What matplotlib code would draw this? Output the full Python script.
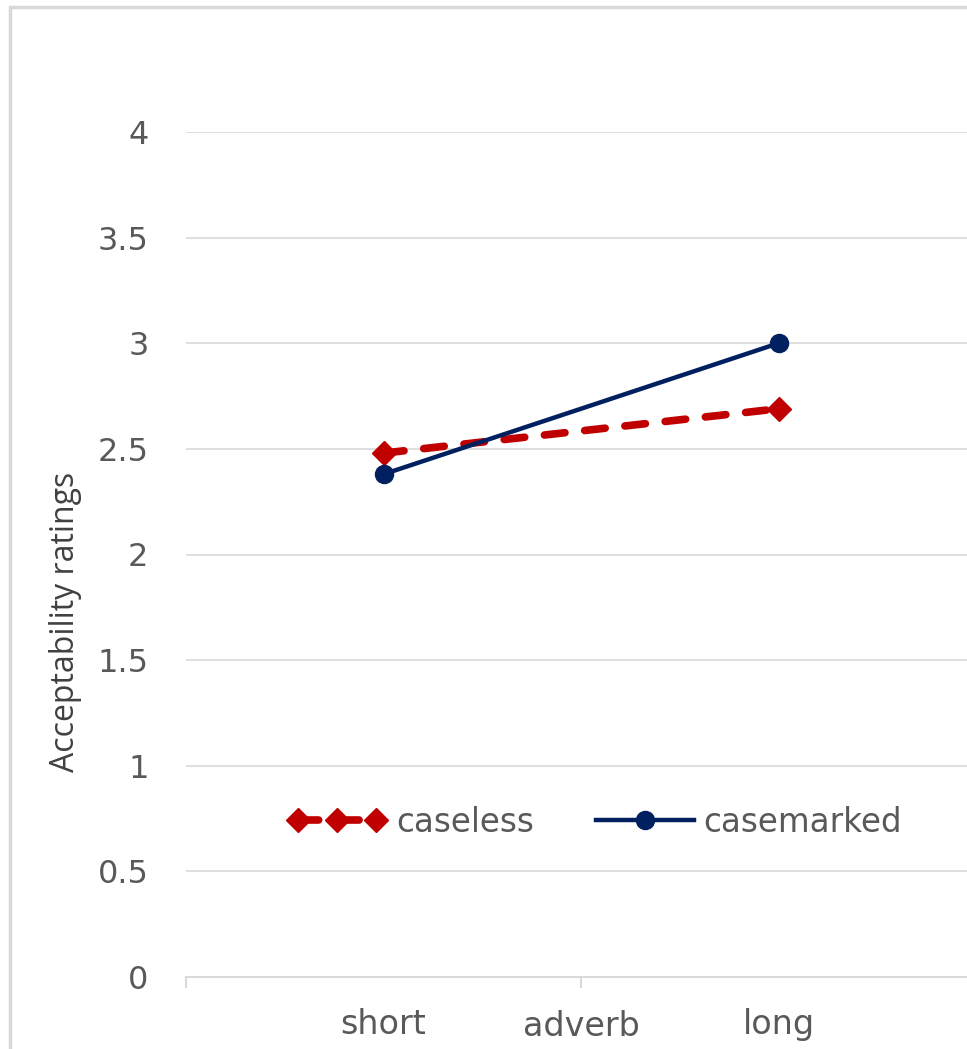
import matplotlib
matplotlib.use("Agg")
import matplotlib.pyplot as plt
from matplotlib.legend_handler import HandlerLine2D
from matplotlib.patches import Rectangle

plt.rcParams["font.family"] = ["DejaVu Sans"]

categories = ["short", "long"]
caseless = [2.48, 2.69]
casemarked = [2.38, 3.00]
yticks = [0, 0.5, 1, 1.5, 2, 2.5, 3, 3.5, 4]
ytick_labels = ["0", "0.5", "1", "1.5", "2", "2.5", "3", "3.5", "4"]

GRID = "#d9d9d9"
TXT = "#595959"
RED = "#c00000"
NAVY = "#002060"

fig = plt.figure(figsize=(9.67, 10.49), dpi=100)
# chart-area border (cropped on right/bottom in the original)
fig.patches.append(Rectangle((10 / 967, -0.05), 1.2, 1 - 7 / 1049 + 0.05,
                             transform=fig.transFigure, fill=False,
                             edgecolor=GRID, lw=2.5))

ax = fig.add_axes([186 / 967, 1 - 977 / 1049, 790 / 967, 845 / 1049])
x = list(range(len(categories)))

l1, = ax.plot(x, caseless, color=RED, lw=5.5, ls=(0, (2.7, 2.6)),
              dash_capstyle="round", marker="D", markersize=12.5,
              label="caseless", zorder=3)
l2, = ax.plot(x, casemarked, color=NAVY, lw=3.2, marker="o", markersize=13,
              label="casemarked", zorder=4)

ax.set_xlim(-0.5, 1.5)
ax.set_ylim(0, 4)
ax.set_yticks(yticks)
ax.set_yticklabels(ytick_labels)
ax.set_xticks(x)
ax.set_xticklabels(categories)
ax.set_xticks([-0.5, 0.5, 1.5], minor=True)
ax.tick_params(axis="x", which="major", length=0, pad=22, labelsize=24, labelcolor=TXT)
ax.tick_params(axis="x", which="minor", length=8, width=1.5, color=GRID, direction="out")
ax.tick_params(axis="y", length=0, pad=27, labelsize=23, labelcolor=TXT)
ax.grid(axis="y", color=GRID, lw=1.2)
ax.set_axisbelow(True)
for s in ["top", "left", "right"]:
    ax.spines[s].set_visible(False)
ax.spines["bottom"].set_color(GRID)
ax.spines["bottom"].set_linewidth(1.5)

ax.set_xlabel("adverb", fontsize=24, color=TXT)
ax.xaxis.set_label_coords(0.5, -0.059)
ax.xaxis.label.set_va("center")
ax.set_ylabel("Acceptability ratings", fontsize=23, color="#404040",
              family=["Open Sans", "DejaVu Sans"])
ax.yaxis.set_label_coords(-0.152, 0.42)
ax.yaxis.label.set_va("center")

ax.legend(handles=[l1, l2], loc="center", bbox_to_anchor=(0.518, 0.183),
          ncol=2, frameon=False, fontsize=23.5, labelcolor=TXT,
          handlelength=3.0, handletextpad=0.3, columnspacing=1.9,
          handler_map={l1: HandlerLine2D(numpoints=3)})

fig.savefig("out.png", dpi=100, facecolor="white")
